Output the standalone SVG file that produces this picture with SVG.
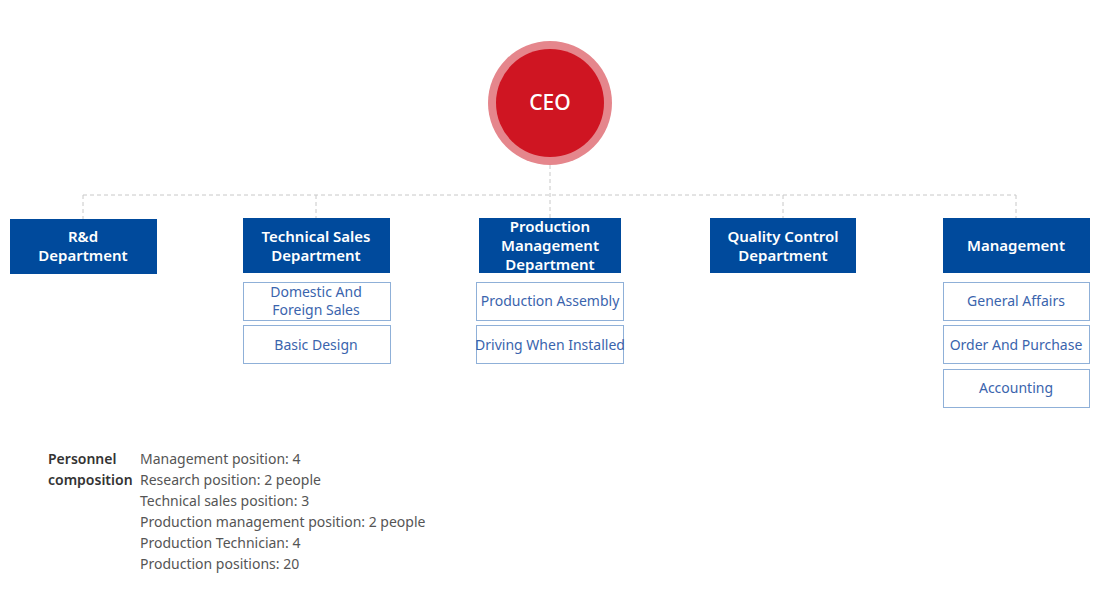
<svg xmlns="http://www.w3.org/2000/svg" width="1100" height="603" viewBox="0 0 1100 603">
<style>
text{font-family:"Noto Sans","Liberation Sans",sans-serif;text-anchor:middle}
.d{fill:#004a9c}
.dt{fill:#fff;font-size:15px;font-weight:600}
.s{fill:#fff;stroke:#8fb0d8;stroke-width:1}
.st{fill:#3a64ad;font-size:14px}
.c{stroke:#c8c8c8;stroke-width:1;stroke-dasharray:4 3;fill:none}
.p{fill:#555;font-size:14px;text-anchor:start}
.pb{fill:#333;font-size:14px;font-weight:600;text-anchor:start}
</style>
<rect width="1100" height="603" fill="#fff"/>
<g id="connectors">
<path class="c" d="M550 165V218M83 195H1016M83 195V219M316 195V218M783 195V218M1016 195V218"/>
</g>
<g id="ceo">
<circle cx="550" cy="103" r="62" fill="#e5868c"/>
<circle cx="550" cy="103" r="54" fill="#cf1522"/>
<text x="550" y="110" fill="#fff" font-size="21" font-weight="500">CEO</text>
</g>
<g id="rnd"><rect class="d" x="10" y="219" width="147" height="55"/>
<text class="dt" x="83" y="242">R&amp;d</text><text class="dt" x="83" y="261">Department</text></g>
<g id="techsales"><rect class="d" x="243" y="218" width="147" height="55"/>
<text class="dt" x="316" y="242">Technical Sales</text><text class="dt" x="316" y="261">Department</text></g>
<g id="production"><rect class="d" x="479" y="218" width="142" height="55"/>
<text class="dt" x="550" y="232">Production</text><text class="dt" x="550" y="251">Management</text><text class="dt" x="550" y="270">Department</text></g>
<g id="qc"><rect class="d" x="710" y="218" width="146" height="55"/>
<text class="dt" x="783" y="242">Quality Control</text><text class="dt" x="783" y="261">Department</text></g>
<g id="management"><rect class="d" x="943" y="218" width="147" height="55"/>
<text class="dt" x="1016" y="251">Management</text></g>
<g id="domestic"><rect class="s" x="243.5" y="282.5" width="147" height="38"/>
<text class="st" x="316" y="297">Domestic And</text><text class="st" x="316" y="315">Foreign Sales</text></g>
<g id="basicdesign"><rect class="s" x="243.5" y="325.5" width="147" height="38"/>
<text class="st" x="316" y="350">Basic Design</text></g>
<g id="assembly"><rect class="s" x="476.5" y="282.5" width="147" height="38"/>
<text class="st" x="550" y="306">Production Assembly</text></g>
<g id="driving"><rect class="s" x="476.5" y="325.5" width="147" height="38"/>
<text class="st" x="550" y="350">Driving When Installed</text></g>
<g id="general"><rect class="s" x="943.5" y="282.5" width="146" height="38"/>
<text class="st" x="1016" y="306">General Affairs</text></g>
<g id="order"><rect class="s" x="943.5" y="325.5" width="146" height="38"/>
<text class="st" x="1016" y="350">Order And Purchase</text></g>
<g id="accounting"><rect class="s" x="943.5" y="369.5" width="146" height="38"/>
<text class="st" x="1016" y="393">Accounting</text></g>
<g id="personnel">
<text class="pb" x="48" y="464">Personnel</text><text class="pb" x="48" y="485">composition</text>
<text class="p" x="140" y="464">Management position: 4</text>
<text class="p" x="140" y="485">Research position: 2 people</text>
<text class="p" x="140" y="506">Technical sales position: 3</text>
<text class="p" x="140" y="527">Production management position: 2 people</text>
<text class="p" x="140" y="548">Production Technician: 4</text>
<text class="p" x="140" y="569">Production positions: 20</text>
</g>
</svg>
